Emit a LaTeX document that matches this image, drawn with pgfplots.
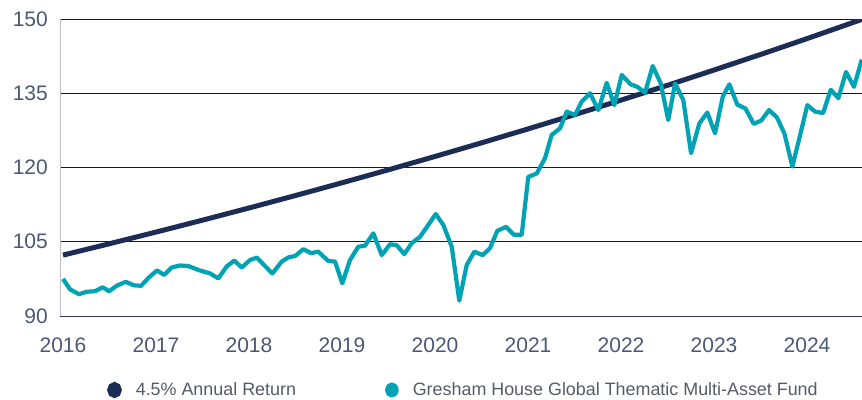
\documentclass[border=0pt]{standalone}
\usepackage{fontspec}
\setmainfont{Liberation Sans}
\usepackage{pgfplots}
\pgfplotsset{compat=1.18}
\definecolor{navyline}{HTML}{1C2D55}
\definecolor{tealline}{HTML}{00A3B4}
\definecolor{ticktext}{HTML}{4A5775}
\definecolor{legtext}{HTML}{555B66}
\definecolor{baseaxis}{HTML}{2E3A58}
\begin{document}
\begin{tikzpicture}
\begin{axis}[
  at={(0pt,0pt)}, anchor=south west,
  scale only axis, width=802bp, height=297bp,
  xmin=2015.968, xmax=2024.591, ymin=90, ymax=150,
  xtick={2016,2017,2018,2019,2020,2021,2022,2023,2024},
  xticklabels={2016,2017,2018,2019,2020,2021,2022,2023,2024},
  ytick={90,105,120,135,150},
  /pgf/number format/assume math mode=true,
  /pgf/number format/1000 sep={},
  axis x line*=bottom, axis y line*=left,
  x axis line style={draw=baseaxis, line width=1bp, -},
  y axis line style={draw=black!25, line width=1bp, -},
  major tick length=0pt,
  ymajorgrids, grid style={draw=black!90, line width=0.7bp},
  tick label style={font=\fontsize{21bp}{25bp}\selectfont, text=ticktext, inner sep=0pt},
  xticklabel style={anchor=north, yshift=-22bp},
  yticklabel style={anchor=east, xshift=-12bp},
  clip=true,
  legend columns=2,
  legend style={draw=none, fill=none, inner sep=0pt,
    at={(rel axis cs:0,0)}, anchor=west, xshift=47bp, yshift=-74bp,
    font=\fontsize{17.9bp}{20bp}\selectfont, text=legtext,
    nodes={inner sep=0pt},
    /tikz/every odd column/.append style={column sep=14bp},
    /tikz/every even column/.append style={column sep=89bp}},
  legend image code/.code={\fill[#1] (0bp,0bp) ellipse (4.8bp and 5.5bp);},
]
\addplot[navyline, line width=5bp] coordinates {
(2016.0,102.30) (2016.5,104.60) (2017.0,106.95) (2017.5,109.36) (2018.0,111.82)
(2018.5,114.34) (2019.0,116.91) (2019.5,119.54) (2020.0,122.23) (2020.5,124.98)
(2021.0,127.79) (2021.5,130.67) (2022.0,133.61) (2022.5,136.61) (2023.0,139.69)
(2023.5,142.83) (2024.0,146.04) (2024.5,149.33) (2024.7,150.66)
};
\addlegendentry{4.5\% Annual Return}
\addplot[tealline, line width=4.2bp, line join=round] table {
x y
2016.000 97.5
2016.075 95.4
2016.172 94.4
2016.255 94.9
2016.344 95.0
2016.427 95.8
2016.495 95.0
2016.577 96.1
2016.674 96.9
2016.763 96.2
2016.839 96.1
2016.925 97.8
2017.011 99.2
2017.089 98.3
2017.169 99.8
2017.258 100.2
2017.347 100.1
2017.455 99.3
2017.581 98.6
2017.670 97.6
2017.760 100.0
2017.842 101.2
2017.922 99.8
2018.011 101.3
2018.083 101.8
2018.251 98.6
2018.352 101.0
2018.430 101.9
2018.495 102.1
2018.584 103.5
2018.667 102.7
2018.745 103.0
2018.853 101.1
2018.925 101.0
2019.003 96.6
2019.086 101.3
2019.175 104.0
2019.247 104.2
2019.337 106.7
2019.427 102.3
2019.516 104.5
2019.588 104.3
2019.670 102.5
2019.749 104.7
2019.839 106.0
2019.928 108.4
2020.008 110.6
2020.089 108.4
2020.180 104.0
2020.261 93.1
2020.341 100.3
2020.423 103.0
2020.513 102.3
2020.591 103.7
2020.670 107.2
2020.763 108.0
2020.849 106.4
2020.932 106.4
2021.003 118.1
2021.094 118.8
2021.183 121.9
2021.255 126.6
2021.344 127.9
2021.416 131.3
2021.505 130.6
2021.577 133.3
2021.667 135.0
2021.756 131.6
2021.846 137.1
2021.928 132.6
2022.008 138.7
2022.104 136.8
2022.175 136.3
2022.258 135.1
2022.341 140.5
2022.427 137.0
2022.508 129.6
2022.581 137.0
2022.670 133.6
2022.753 122.9
2022.842 128.9
2022.928 131.1
2023.011 126.9
2023.094 134.3
2023.165 136.8
2023.250 132.7
2023.339 131.9
2023.427 128.8
2023.508 129.5
2023.591 131.6
2023.677 130.1
2023.758 126.8
2023.842 120.2
2023.925 126.5
2024.003 132.6
2024.086 131.3
2024.172 131.0
2024.255 135.7
2024.337 134.0
2024.419 139.3
2024.505 136.3
2024.588 141.8
};
\addlegendentry{Gresham House Global Thematic Multi-Asset Fund}
\end{axis}
\pgfresetboundingbox
\path (-60bp,-84bp) rectangle (802bp,316bp);
\end{tikzpicture}
\end{document}
